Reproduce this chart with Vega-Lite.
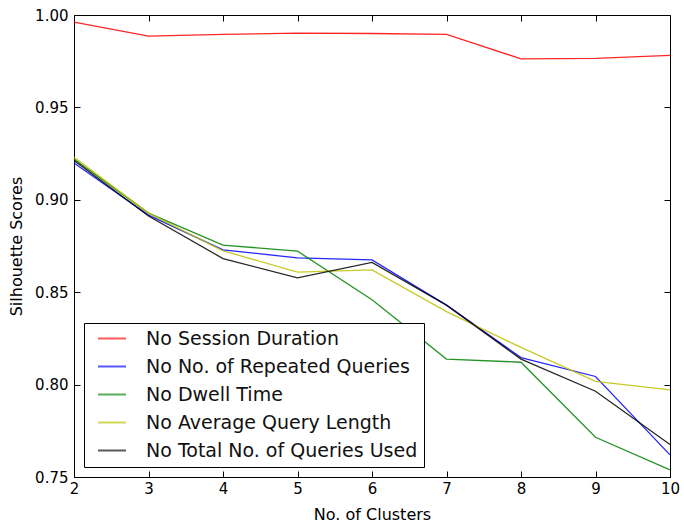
{
  "$schema": "https://vega.github.io/schema/vega-lite/v6.json",
  "width": 596,
  "height": 462,
  "autosize": "none",
  "padding": {"left": 74, "top": 15, "right": 14, "bottom": 51},
  "background": "white",
  "config": {
    "font": "DejaVu Sans",
    "view": {"stroke": "black", "strokeWidth": 1},
    "axis": {
      "grid": false,
      "domain": false,
      "labelFlush": false,
      "tickColor": "black",
      "tickSize": -6,
      "labelColor": "black",
      "labelFontSize": 15,
      "titleFontSize": 16,
      "titleFontWeight": "normal",
      "titleColor": "black"
    }
  },
  "data": {
    "values": [
      {"k": 2, "series": "No Session Duration", "score": 0.9961},
      {"k": 3, "series": "No Session Duration", "score": 0.9886},
      {"k": 4, "series": "No Session Duration", "score": 0.9895},
      {"k": 5, "series": "No Session Duration", "score": 0.9902},
      {"k": 6, "series": "No Session Duration", "score": 0.99},
      {"k": 7, "series": "No Session Duration", "score": 0.9895},
      {"k": 8, "series": "No Session Duration", "score": 0.9763},
      {"k": 9, "series": "No Session Duration", "score": 0.9765},
      {"k": 10, "series": "No Session Duration", "score": 0.9782},
      {"k": 2, "series": "No No. of Repeated Queries", "score": 0.9199},
      {"k": 3, "series": "No No. of Repeated Queries", "score": 0.8917},
      {"k": 4, "series": "No No. of Repeated Queries", "score": 0.8729},
      {"k": 5, "series": "No No. of Repeated Queries", "score": 0.8686},
      {"k": 6, "series": "No No. of Repeated Queries", "score": 0.8675},
      {"k": 7, "series": "No No. of Repeated Queries", "score": 0.843},
      {"k": 8, "series": "No No. of Repeated Queries", "score": 0.8146},
      {"k": 9, "series": "No No. of Repeated Queries", "score": 0.8044},
      {"k": 10, "series": "No No. of Repeated Queries", "score": 0.762},
      {"k": 2, "series": "No Dwell Time", "score": 0.922},
      {"k": 3, "series": "No Dwell Time", "score": 0.8928},
      {"k": 4, "series": "No Dwell Time", "score": 0.8755},
      {"k": 5, "series": "No Dwell Time", "score": 0.8722},
      {"k": 6, "series": "No Dwell Time", "score": 0.8459},
      {"k": 7, "series": "No Dwell Time", "score": 0.8138},
      {"k": 8, "series": "No Dwell Time", "score": 0.8121},
      {"k": 9, "series": "No Dwell Time", "score": 0.7715},
      {"k": 10, "series": "No Dwell Time", "score": 0.7539},
      {"k": 2, "series": "No Average Query Length", "score": 0.923},
      {"k": 3, "series": "No Average Query Length", "score": 0.8928},
      {"k": 4, "series": "No Average Query Length", "score": 0.8724},
      {"k": 5, "series": "No Average Query Length", "score": 0.8609},
      {"k": 6, "series": "No Average Query Length", "score": 0.8621},
      {"k": 7, "series": "No Average Query Length", "score": 0.8395},
      {"k": 8, "series": "No Average Query Length", "score": 0.8201},
      {"k": 9, "series": "No Average Query Length", "score": 0.8018},
      {"k": 10, "series": "No Average Query Length", "score": 0.7972},
      {"k": 2, "series": "No Total No. of Queries Used", "score": 0.9213},
      {"k": 3, "series": "No Total No. of Queries Used", "score": 0.8912},
      {"k": 4, "series": "No Total No. of Queries Used", "score": 0.8682},
      {"k": 5, "series": "No Total No. of Queries Used", "score": 0.8578},
      {"k": 6, "series": "No Total No. of Queries Used", "score": 0.8661},
      {"k": 7, "series": "No Total No. of Queries Used", "score": 0.843},
      {"k": 8, "series": "No Total No. of Queries Used", "score": 0.8138},
      {"k": 9, "series": "No Total No. of Queries Used", "score": 0.7964},
      {"k": 10, "series": "No Total No. of Queries Used", "score": 0.7676}
    ]
  },
  "layer": [
    {
      "mark": {"type": "line", "strokeWidth": 1.3, "opacity": 0.85},
      "encoding": {
        "x": {
          "field": "k",
          "type": "quantitative",
          "scale": {"domain": [2, 10], "nice": false, "zero": false},
          "axis": {"values": [2, 3, 4, 5, 6, 7, 8, 9, 10], "title": "No. of Clusters", "labelPadding": 10, "titlePadding": 10}
        },
        "y": {
          "field": "score",
          "type": "quantitative",
          "scale": {"domain": [0.75, 1.0], "nice": false, "zero": false},
          "axis": {"values": [0.75, 0.8, 0.85, 0.9, 0.95, 1.0], "format": ".2f", "title": "Silhouette Scores", "labelPadding": 12, "titlePadding": 10}
        },
        "color": {
          "field": "series",
          "type": "nominal",
          "sort": null,
          "scale": {
            "domain": ["No Session Duration", "No No. of Repeated Queries", "No Dwell Time", "No Average Query Length", "No Total No. of Queries Used"],
            "range": ["#ff0000", "#0000ff", "#008000", "#bfbf00", "#000000"]
          },
          "legend": {
            "orient": "none",
            "legendX": 10,
            "legendY": 308,
            "title": null,
            "strokeColor": "black",
            "fillColor": "white",
            "padding": 6,
            "cornerRadius": 0,
            "labelFontSize": 19,
            "labelColor": "#111111",
            "labelLimit": 500,
            "labelOffset": 19,
            "symbolType": "stroke",
            "symbolSize": 784,
            "symbolStrokeWidth": 2,
            "symbolOpacity": 0.65,
            "symbolOffset": 7,
            "clipHeight": 19,
            "rowPadding": 8
          }
        }
      }
    },
    {
      "mark": {"type": "line", "opacity": 0},
      "encoding": {
        "x": {
          "field": "k",
          "type": "quantitative",
          "axis": {"orient": "top", "values": [2, 3, 4, 5, 6, 7, 8, 9, 10], "labels": false, "title": null}
        },
        "y": {
          "field": "score",
          "type": "quantitative",
          "axis": {"orient": "right", "values": [0.75, 0.8, 0.85, 0.9, 0.95, 1.0], "labels": false, "title": null}
        },
        "detail": {"field": "series"}
      }
    }
  ],
  "resolve": {"axis": {"x": "independent", "y": "independent"}}
}
